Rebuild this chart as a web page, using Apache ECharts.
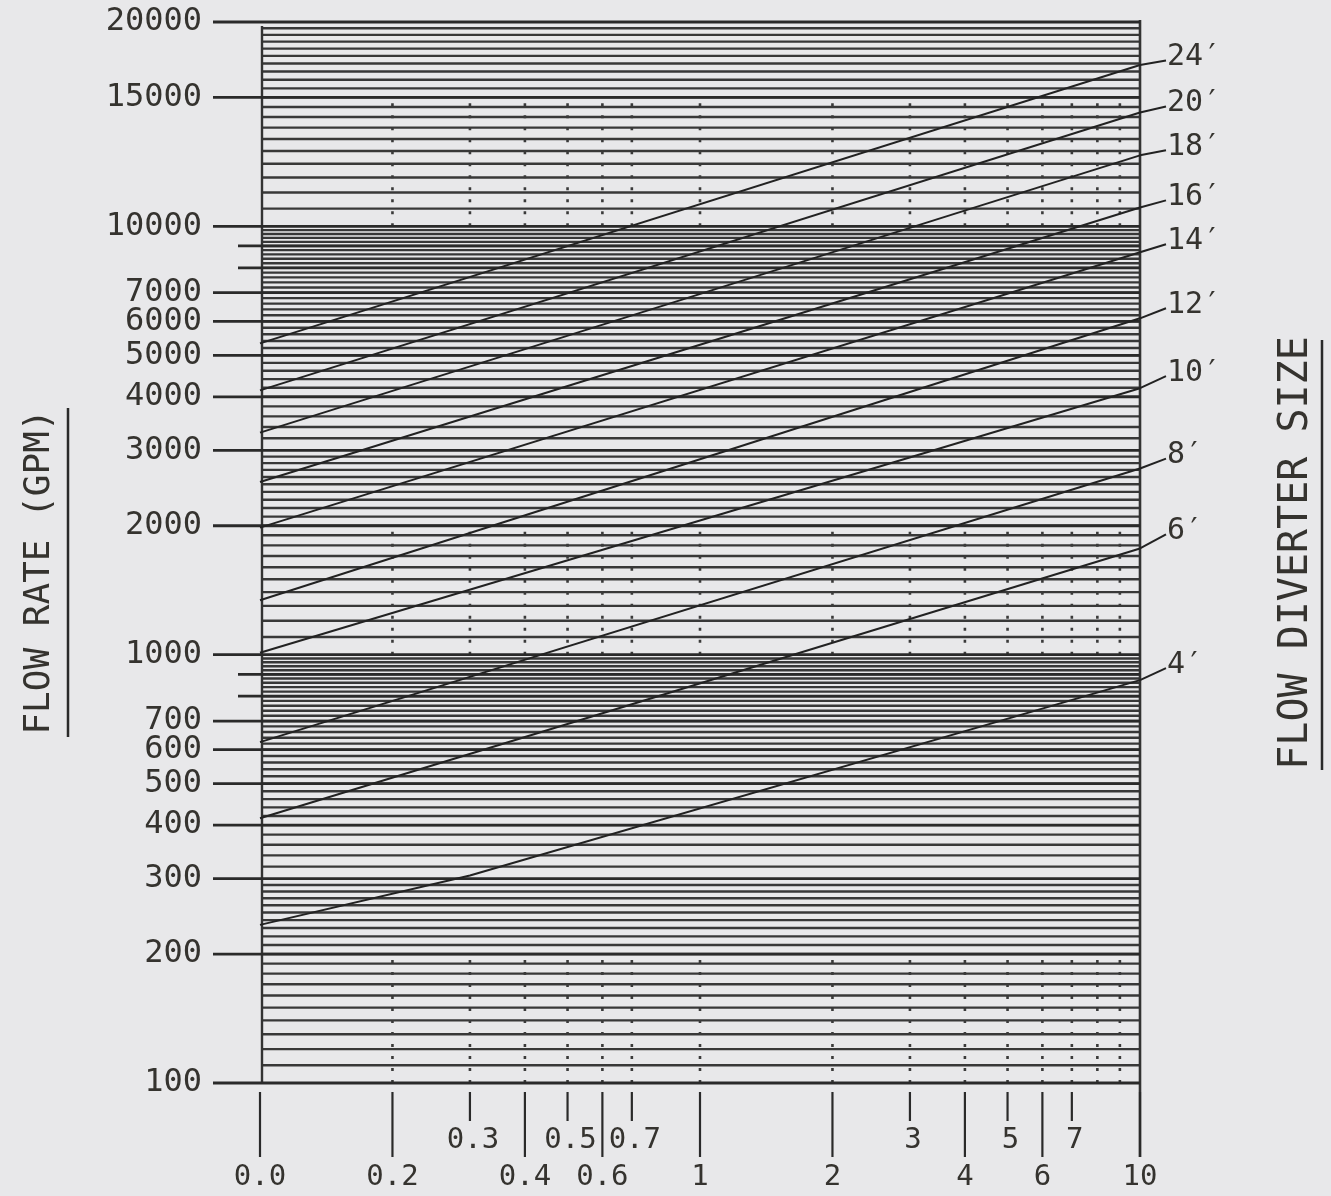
<!DOCTYPE html>
<html>
<head>
<meta charset="utf-8">
<script src="https://cdn.jsdelivr.net/npm/echarts@6/dist/echarts.min.js"></script>
<style>
html,body{margin:0;padding:0;background:#e8e8ea;}
#c{width:1331px;height:1196px;}
</style>
</head>
<body>
<div id="c"></div>
<script>
// ---- X axis (log) ticks ----
const xTickValues = [0.1, 0.2, 0.3, 0.4, 0.5, 0.6, 0.7, 1, 2, 3, 4, 5, 6, 7, 10];
const xTickLabels = ['0.0', '0.2', '0.3', '0.4', '0.5', '0.6', '0.7', '1', '2', '3', '4', '5', '6', '7', '10'];
const xTickRow = ['low', 'low', 'high', 'low', 'high', 'low', 'high', 'low', 'low', 'high', 'low', 'high', 'low', 'high', 'low'];
const xDottedValues = [0.2, 0.3, 0.4, 0.5, 0.6, 0.7, 1, 2, 3, 4, 5, 6, 7, 8, 9];
const dottedBands = [[100, 200], [1000, 2000], [10000, 20000]];

// ---- Y axis (log) ticks ----
const yTickValues = [100, 200, 300, 400, 500, 600, 700, 800, 900, 1000, 2000, 3000, 4000, 5000, 6000, 7000, 8000, 9000, 10000, 20000, 30000];
const yTickLabels = ['100', '200', '300', '400', '500', '600', '700', '', '', '1000', '2000', '3000', '4000', '5000', '6000', '7000', '', '', '10000', '15000', '20000'];
// graph-paper rulings: [from, to, step]
const rulingRanges = [[100, 300, 10], [300, 1000, 20], [1000, 3000, 100], [3000, 10000, 200], [10000, 30000, 1000]];

// ---- Diverter size lines (flow in GPM) ----
const diverterSizes = ['24′', '20′', '18′', '16′', '14′', '12′', '10′', '8′', '6′', '4′'];
const xLow = 0.1, xHigh = 10;
const flowAtLow = [5330, 4140, 3300, 2530, 1980, 1340, 1010, 625, 415, 234];
const flowAtHigh = [23800, 18450, 14650, 11070, 8700, 6100, 4190, 2720, 1770, 872];
const flowAtLabel = [24400, 19050, 15050, 11500, 9080, 6440, 4470, 2870, 1910, 930];
const flow4Kink = [0.3, 305];

const FONT = '"DejaVu Sans Mono", "Liberation Mono", monospace';
const INK = '#35332f';

const rulings = [];
rulingRanges.forEach(([a, b, s]) => {
  const n = Math.round((b - a) / s);
  for (let k = 1; k < n; k++) rulings.push([xLow, a + k * s]);
});

const dotted = [];
dottedBands.forEach(([lo, hi]) => xDottedValues.forEach(x => dotted.push([x, lo, hi])));

const chart = echarts.init(document.getElementById('c'), null, {renderer: 'canvas'});

const lineSeries = diverterSizes.map((name, i) => {
  const pts = [[xLow, flowAtLow[i]]];
  if (name === '4′') pts.push(flow4Kink);
  pts.push([xHigh, flowAtHigh[i]]);
  return {
    type: 'line', name, data: pts, symbol: 'none', clip: false, silent: true, z: 10,
    lineStyle: {color: '#222222', width: 2}
  };
});

chart.setOption({
  animation: false,
  backgroundColor: '#e8e8ea',
  grid: {left: 260, right: 191, top: 22, bottom: 113, containLabel: false},
  xAxis: {type: 'log', logBase: 10, min: 0.1, max: 10,
    axisLine: {show: false}, axisTick: {show: false}, axisLabel: {show: false}, splitLine: {show: false}},
  yAxis: {type: 'log', logBase: 10, min: 100, max: 30000,
    axisLine: {show: false}, axisTick: {show: false}, axisLabel: {show: false}, splitLine: {show: false}},
  graphic: [
    {type: 'text', x: 40, y: 572, rotation: Math.PI / 2,
      style: {text: 'FLOW RATE (GPM)', font: '36px ' + FONT, fill: INK, textAlign: 'center', textVerticalAlign: 'middle'}},
    {type: 'line', shape: {x1: 68, y1: 408, x2: 68, y2: 737}, style: {stroke: '#2a2a2a', lineWidth: 2.5}},
    {type: 'text', x: 1297, y: 553, rotation: Math.PI / 2,
      style: {text: 'FLOW DIVERTER SIZE', font: '40px ' + FONT, fill: INK, textAlign: 'center', textVerticalAlign: 'middle'}},
    {type: 'line', shape: {x1: 1322, y1: 340, x2: 1322, y2: 770}, style: {stroke: '#2a2a2a', lineWidth: 2.5}}
  ],
  series: [
    { // paper rulings
      type: 'custom', silent: true, z: 1, clip: false,
      encode: {x: 0, y: 1}, data: rulings,
      renderItem: (params, api) => {
        const a = api.coord([xLow, api.value(1)]);
        const b = api.coord([xHigh, api.value(1)]);
        return {type: 'line', shape: {x1: a[0] + 2, y1: a[1], x2: b[0], y2: b[1]},
          style: {stroke: '#383838', lineWidth: 2.4}};
      }
    },
    { // dotted verticals
      type: 'custom', silent: true, z: 2, clip: false,
      encode: {x: 0, y: 1}, data: dotted,
      renderItem: (params, api) => {
        const a = api.coord([api.value(0), api.value(1)]);
        const b = api.coord([api.value(0), api.value(2)]);
        return {type: 'line', shape: {x1: a[0], y1: a[1], x2: b[0], y2: b[1]},
          style: {stroke: '#3a3a3a', lineWidth: 2.6, lineDash: [3, 9]}};
      }
    },
    { // frame
      type: 'custom', silent: true, z: 3, clip: false,
      encode: {x: 0, y: 1}, data: [[xLow, 100]],
      renderItem: (params, api) => {
        const tl = api.coord([xLow, 30000]);
        const bl = api.coord([xLow, 100]);
        const tr = api.coord([xHigh, 30000]);
        const br = api.coord([xHigh, 100]);
        return {type: 'group', children: [
          {type: 'line', shape: {x1: tl[0] + 2, y1: tl[1] + 4, x2: bl[0] + 2, y2: bl[1]}, style: {stroke: '#333', lineWidth: 2.4}},
          {type: 'line', shape: {x1: tr[0], y1: tr[1] - 2, x2: br[0], y2: br[1] + 74}, style: {stroke: '#333', lineWidth: 2.6}}
        ]};
      }
    },
    { // y major ticks + labels
      type: 'custom', silent: true, z: 4, clip: false,
      encode: {x: 0, y: 1}, data: yTickValues.map((v, i) => [xLow, v, i]),
      renderItem: (params, api) => {
        const i = api.value(2);
        const lab = yTickLabels[i];
        const a = api.coord([xLow, api.value(1)]);
        const b = api.coord([xHigh, api.value(1)]);
        const children = [
          {type: 'line', shape: {x1: a[0] - (lab ? 47 : 22), y1: a[1], x2: b[0], y2: b[1]},
            style: {stroke: '#2a2a2a', lineWidth: 2.8}}
        ];
        if (lab) children.push({type: 'text', x: a[0] - 58, y: a[1],
          style: {text: lab, font: '32px ' + FONT, fill: INK, textAlign: 'right', textVerticalAlign: 'middle'}});
        return {type: 'group', children};
      }
    },
    { // x ticks + labels
      type: 'custom', silent: true, z: 4, clip: false,
      encode: {x: 0, y: 1}, data: xTickValues.map((v, i) => [v, 100, i]),
      renderItem: (params, api) => {
        const i = api.value(2);
        const low = xTickRow[i] === 'low';
        const p = api.coord([api.value(0), 100]);
        return {type: 'group', children: [
          {type: 'line', shape: {x1: p[0], y1: p[1] + 9, x2: p[0], y2: p[1] + (low ? 74 : 38)},
            style: {stroke: '#2a2a2a', lineWidth: 2.2}},
          {type: 'text', x: p[0] + (low ? 0 : 3), y: p[1] + (low ? 94 : 57),
            style: {text: xTickLabels[i], font: '29px ' + FONT, fill: INK, textAlign: 'center', textVerticalAlign: 'middle'}}
        ]};
      }
    },
    { // leader lines + size labels
      type: 'custom', silent: true, z: 11, clip: false,
      encode: {x: 0, y: 1}, data: diverterSizes.map((n, i) => [xHigh, flowAtHigh[i], flowAtLabel[i], i]),
      renderItem: (params, api) => {
        const i = api.value(3);
        const a = api.coord([xHigh, api.value(1)]);
        const b = api.coord([xHigh, api.value(2)]);
        return {type: 'group', children: [
          {type: 'line', shape: {x1: a[0], y1: a[1], x2: a[0] + 26, y2: b[1]},
            style: {stroke: '#222', lineWidth: 2}},
          {type: 'text', x: a[0] + 27, y: b[1] - 3,
            style: {text: diverterSizes[i], font: '30px ' + FONT, fill: INK, textAlign: 'left', textVerticalAlign: 'middle'}}
        ]};
      }
    },
    ...lineSeries
  ]
});
</script>
</body>
</html>
